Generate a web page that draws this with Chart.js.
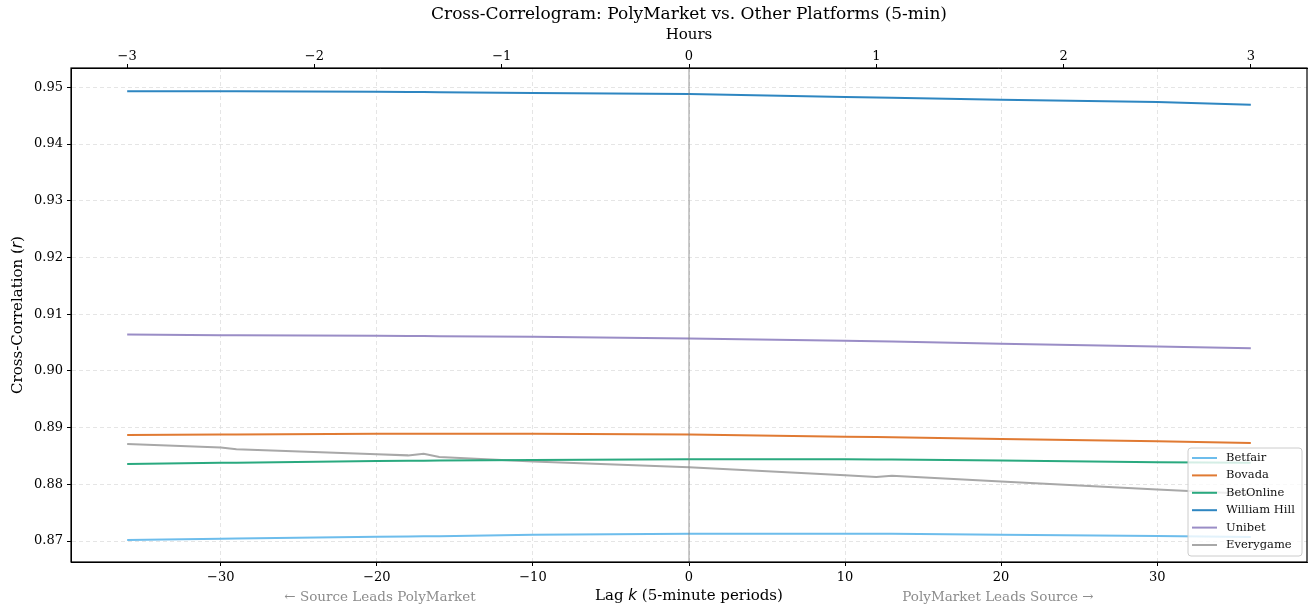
<!DOCTYPE html>
<html>
<head>
<meta charset="utf-8">
<script src="https://cdn.jsdelivr.net/npm/chart.js@4/dist/chart.umd.min.js"></script>
<style>
  body { margin: 0; background: #fff; }
  #wrap { width: 1309px; height: 611px; }
</style>
</head>
<body>
<div id="wrap"><canvas id="chartCanvas"></canvas></div>
<script>
// lag k in 5-minute periods
const lags = [-36, -30, -29, -20, -18, -17, -16, -10, 0, 10, 12, 13, 20, 30, 36];

const betfair     = [0.8702, 0.8704, 0.87043, 0.87075, 0.8708, 0.87083, 0.87086, 0.8711, 0.8713, 0.8713, 0.8713, 0.87129, 0.8711, 0.8709, 0.8707];
const bovada      = [0.8887, 0.8888, 0.8888, 0.8889, 0.8889, 0.8889, 0.8889, 0.8889, 0.8888, 0.8884, 0.88833, 0.88829, 0.8880, 0.8876, 0.8873];
const betOnline   = [0.8836, 0.8838, 0.88382, 0.8841, 0.88415, 0.88417, 0.8842, 0.8843, 0.8844, 0.8844, 0.88438, 0.88436, 0.8842, 0.8839, 0.8838];
const williamHill = [0.9493, 0.9493, 0.9493, 0.9492, 0.94917, 0.94916, 0.94914, 0.9490, 0.9488, 0.9483, 0.94821, 0.94816, 0.9478, 0.9474, 0.9469];
const unibet      = [0.9064, 0.9063, 0.90628, 0.9062, 0.90616, 0.90614, 0.90612, 0.9060, 0.9057, 0.9053, 0.90522, 0.90518, 0.9048, 0.9043, 0.9040];
const everygame   = [0.8871, 0.8865, 0.8862, 0.8853, 0.8851, 0.8854, 0.8848, 0.8840, 0.8830, 0.8816, 0.8813, 0.8815, 0.8805, 0.8791, 0.8783];

const seriesNames = ["Betfair", "Bovada", "BetOnline", "William Hill", "Unibet", "Everygame"];
const seriesColors = ["#6dbdec", "#e07a33", "#2aa97f", "#2e86c1", "#9a8dc6", "#a8a8a8"];

const lagTicks = [-30, -20, -10, 0, 10, 20, 30];
const hourTicks = [-3, -2, -1, 0, 1, 2, 3];
const rTicks = [0.87, 0.88, 0.89, 0.90, 0.91, 0.92, 0.93, 0.94, 0.95];

const xMin = -39.6, xMax = 39.6;
const yMin = 0.8663, yMax = 0.9534;

const serif = "'DejaVu Serif', serif";
const minus = v => String(v).replace("-", "\u2212");

function toPoints(vals) {
    return lags.map((k, i) => ({ x: k, y: vals[i] }));
}

const allSeries = [betfair, bovada, betOnline, williamHill, unibet, everygame];

const datasets = allSeries.map((vals, i) => ({
    label: seriesNames[i],
    data: toPoints(vals),
    borderColor: seriesColors[i],
    backgroundColor: seriesColors[i],
    borderWidth: 2,
    pointRadius: 0,
    tension: 0,
    fill: false
}));

// text drawn with mixed fonts (italic k, r)
function drawMixed(ctx, parts, cx, cy) {
    let total = 0;
    parts.forEach(p => { ctx.font = p.font; total += ctx.measureText(p.text).width; });
    let x = cx - total / 2;
    parts.forEach(p => {
        ctx.font = p.font;
        ctx.fillText(p.text, x, cy);
        x += ctx.measureText(p.text).width;
    });
}

const decorPlugin = {
    id: "decor",
    afterDatasetsDraw(chart) {
        const { ctx, chartArea: a, scales } = chart;
        // vertical line at lag 0
        const x0 = scales.x.getPixelForValue(0);
        ctx.save();
        ctx.strokeStyle = "rgba(128,128,128,0.5)";
        ctx.lineWidth = 1.6;
        ctx.beginPath();
        ctx.moveTo(x0, a.top);
        ctx.lineTo(x0, a.bottom);
        ctx.stroke();
        ctx.restore();
    },
    afterDraw(chart) {
        const { ctx, chartArea: a } = chart;
        const cx = (a.left + a.right) / 2;
        ctx.save();

        // frame
        ctx.strokeStyle = "#000";
        ctx.lineWidth = 1.2;
        ctx.strokeRect(a.left, a.top, a.right - a.left, a.bottom - a.top);

        ctx.fillStyle = "#000";
        ctx.textBaseline = "middle";
        ctx.textAlign = "center";
        ctx.font = "17px " + serif;
        ctx.fillText("Cross-Correlogram: PolyMarket vs. Other Platforms (5-min)", cx, 15);
        ctx.font = "15px " + serif;
        ctx.fillText("Hours", cx, 35);

        ctx.textAlign = "left";
        drawMixed(ctx, [
            { text: "Lag ", font: "15px " + serif },
            { text: "k", font: "italic 15px 'DejaVu Sans', sans-serif" },
            { text: " (5-minute periods)", font: "15px " + serif }
        ], cx, 596);

        ctx.save();
        ctx.translate(18, (a.top + a.bottom) / 2);
        ctx.rotate(-Math.PI / 2);
        drawMixed(ctx, [
            { text: "Cross-Correlation (", font: "15px " + serif },
            { text: "r", font: "italic 15px 'DejaVu Sans', sans-serif" },
            { text: ")", font: "15px " + serif }
        ], 0, 0);
        ctx.restore();

        // lead/lag annotations
        const w = a.right - a.left;
        ctx.fillStyle = "#8c8c8c";
        ctx.textAlign = "center";
        ctx.font = "13.5px " + serif;
        ctx.fillText("\u2190 Source Leads PolyMarket", a.left + 0.25 * w, 597);
        ctx.fillText("PolyMarket Leads Source \u2192", a.left + 0.75 * w, 597);

        // legend, lower right inside the axes
        const bx = 1188, by = 448, bw = 114, bh = 108;
        ctx.fillStyle = "rgba(255,255,255,0.8)";
        ctx.strokeStyle = "#cccccc";
        ctx.lineWidth = 1;
        ctx.beginPath();
        ctx.roundRect(bx, by, bw, bh, 3);
        ctx.fill();
        ctx.stroke();
        ctx.font = "11.5px " + serif;
        ctx.textAlign = "left";
        chart.data.datasets.forEach((ds, i) => {
            const y = by + 10 + i * 17.4;
            ctx.strokeStyle = ds.borderColor;
            ctx.lineWidth = 2;
            ctx.beginPath();
            ctx.moveTo(bx + 4, y);
            ctx.lineTo(bx + 29, y);
            ctx.stroke();
            ctx.fillStyle = "#111";
            ctx.fillText(ds.label, bx + 38, y);
        });
        ctx.restore();
    }
};

const tickFont = { family: serif, size: 13 };
const gridOpts = {
    color: "#dedede",
    lineWidth: 0.8,
    tickColor: "#000",
    tickLength: 4,
    tickWidth: 1
};

new Chart(document.getElementById("chartCanvas"), {
    type: "line",
    data: { datasets },
    options: {
        responsive: true,
        maintainAspectRatio: false,
        animation: false,
        layout: { padding: { left: 0, right: 2, top: 0, bottom: 0 } },
        plugins: {
            legend: { display: false },
            title: { display: false },
            tooltip: { enabled: false }
        },
        scales: {
            x: {
                type: "linear",
                position: "bottom",
                min: xMin,
                max: xMax,
                afterBuildTicks: s => { s.ticks = lagTicks.map(v => ({ value: v })); },
                afterFit: s => { s.height = 49; },
                ticks: { font: tickFont, color: "#000", padding: 4, maxRotation: 0, callback: v => minus(v) },
                grid: gridOpts,
                border: { display: true, color: "#000", width: 1, dash: [4, 3] }
            },
            xTop: {
                type: "linear",
                position: "top",
                min: xMin / 12,
                max: xMax / 12,
                afterBuildTicks: s => { s.ticks = hourTicks.map(v => ({ value: v })); },
                afterFit: s => { s.height = 68; },
                ticks: { font: tickFont, color: "#000", padding: 0, maxRotation: 0, callback: v => minus(v) },
                grid: { drawOnChartArea: false, tickColor: "#000", tickLength: 4, tickWidth: 1 },
                border: { display: true, color: "#000", width: 1 }
            },
            y: {
                type: "linear",
                min: yMin,
                max: yMax,
                afterBuildTicks: s => { s.ticks = rTicks.map(v => ({ value: v })); },
                afterFit: s => { s.width = 71; },
                ticks: { font: tickFont, color: "#000", padding: 4, callback: v => v.toFixed(2) },
                grid: gridOpts,
                border: { display: true, color: "#000", width: 1, dash: [4, 3] }
            }
        }
    },
    plugins: [decorPlugin]
});
</script>
</body>
</html>
